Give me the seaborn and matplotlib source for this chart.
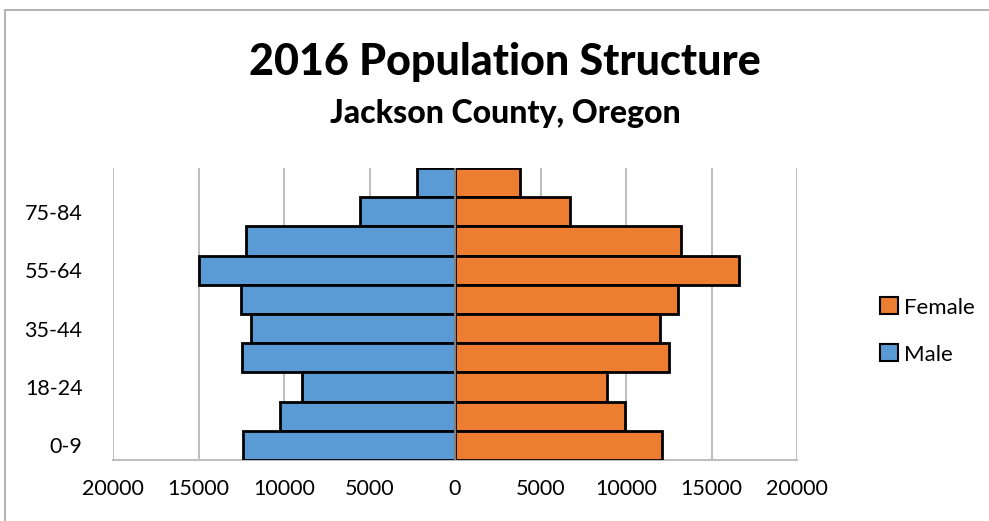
import matplotlib
matplotlib.use("Agg")
import matplotlib.pyplot as plt
import matplotlib.patches as mpatches
import seaborn as sns
import pandas as pd
from matplotlib.ticker import FuncFormatter

# Age groups, oldest first (top of the pyramid)
age_groups = ["85+", "75-84", "65-74", "55-64", "45-54",
              "35-44", "25-34", "18-24", "10-17", "0-9"]
male = [2240, 5560, 12200, 14990, 12530, 11950, 12470, 8970, 10230, 12380]
female = [3800, 6710, 13240, 16610, 13020, 11990, 12540, 8910, 9970, 12110]
labeled_groups = ["75-84", "55-64", "35-44", "18-24", "0-9"]
x_ticks = [-20000, -15000, -10000, -5000, 0, 5000, 10000, 15000, 20000]

male_color = "#5B9BD5"
female_color = "#ED7D31"

sns.set_theme(style="white")
plt.rcParams["font.family"] = ["Lato", "DejaVu Sans"]
plt.rcParams["text.color"] = "black"

df = pd.DataFrame({"age": age_groups,
                   "male": [-v for v in male],
                   "female": female})

fig = plt.figure(figsize=(9.89, 5.21), dpi=100)
ax = fig.add_axes([113 / 989, 1 - 460 / 521, (797 - 113) / 989, (460 - 168) / 521])

sns.barplot(data=df, x="male", y="age", order=age_groups, color=male_color,
            width=1.0, edgecolor="black", linewidth=2, saturation=1, ax=ax, zorder=3)
sns.barplot(data=df, x="female", y="age", order=age_groups, color=female_color,
            width=1.0, edgecolor="black", linewidth=2, saturation=1, ax=ax, zorder=3)

ax.set_xlim(-20000, 20000)
ax.set_ylim(len(age_groups) - 0.5, -0.5)
ax.set_xticks(x_ticks)
ax.xaxis.set_major_formatter(FuncFormatter(lambda v, p: f"{abs(int(v))}"))
ax.set_yticks([age_groups.index(a) for a in labeled_groups])
ax.set_yticklabels(labeled_groups)
ax.tick_params(axis="x", labelsize=15.5, pad=14, length=0, colors="black")
ax.tick_params(axis="y", labelsize=15.5, pad=22, length=0, colors="black")
ax.set_xlabel("")
ax.set_ylabel("")

# vertical gridlines
for t in x_ticks:
    if t != 0:
        ax.axvline(t, color="#BFBFBF", lw=1.5, zorder=1)
ax.axvline(0, color="#7F7F7F", lw=1.5, zorder=5)

for side in ["top", "right", "left"]:
    ax.spines[side].set_visible(False)
ax.spines["bottom"].set_color("#BFBFBF")
ax.spines["bottom"].set_linewidth(1.5)

# titles
fig.text(505 / 989, 1 - 62 / 521, "2016 Population Structure", ha="center",
         va="center", fontsize=31, fontweight="black", color="black")
fig.text(505 / 989, 1 - 113 / 521, "Jackson County, Oregon", ha="center",
         va="center", fontsize=23, fontweight="black", color="black")

# legend
handles = [mpatches.Patch(facecolor=female_color, edgecolor="black", lw=1.5, label="Female"),
           mpatches.Patch(facecolor=male_color, edgecolor="black", lw=1.5, label="Male")]
fig.legend(handles=handles, loc="center left", bbox_to_anchor=(860 / 989, 1 - 331 / 521),
           frameon=False, fontsize=16, handlelength=0.8, handleheight=0.8,
           handletextpad=0.3, labelspacing=1.2)

# chart border
fig.patches.append(mpatches.Rectangle((5 / 989, -0.1), 1.1, 1 - 10 / 521 + 0.1,
                                      transform=fig.transFigure, fill=False,
                                      edgecolor="#A6A6A6", lw=1.2))

fig.savefig("out.png", dpi=100)
